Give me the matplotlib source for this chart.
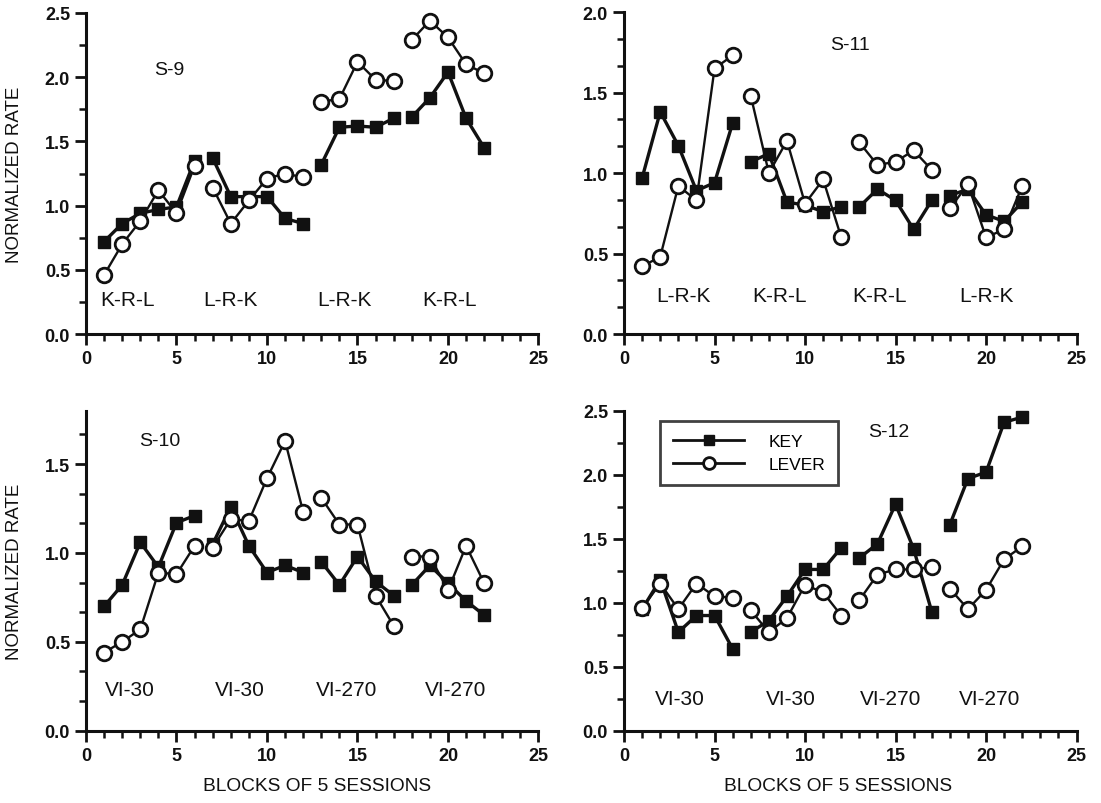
import numpy as np
import matplotlib
matplotlib.use("Agg")
import matplotlib.pyplot as plt
from matplotlib.ticker import MultipleLocator, FixedLocator, FormatStrFormatter
from matplotlib.lines import Line2D

plt.rcParams["font.family"] = ["Liberation Sans", "DejaVu Sans"]

blocks = np.arange(1, 23)
# condition phases: blocks 1-6, 7-12, 13-17, 18-22
segments = [(1, 6), (7, 12), (13, 17), (18, 22)]

s9_key = [0.72, 0.86, 0.94, 0.97, 0.99, 1.35, 1.37, 1.07, 1.07, 1.07, 0.90, 0.86,
          1.32, 1.61, 1.62, 1.61, 1.68, 1.69, 1.84, 2.04, 1.68, 1.45]
s9_lever = [0.46, 0.70, 0.88, 1.12, 0.94, 1.31, 1.14, 0.86, 1.04, 1.21, 1.25, 1.22,
            1.81, 1.83, 2.12, 1.98, 1.97, 2.29, 2.44, 2.31, 2.10, 2.03]
s9_labels = ["K-R-L", "L-R-K", "L-R-K", "K-R-L"]

s11_key = [0.97, 1.38, 1.17, 0.89, 0.94, 1.31, 1.07, 1.12, 0.82, 0.80, 0.76, 0.79,
           0.79, 0.90, 0.83, 0.65, 0.83, 0.86, 0.90, 0.74, 0.70, 0.82]
s11_lever = [0.42, 0.48, 0.92, 0.83, 1.65, 1.73, 1.48, 1.00, 1.20, 0.81, 0.96, 0.60,
             1.19, 1.05, 1.07, 1.14, 1.02, 0.78, 0.93, 0.60, 0.65, 0.92]
s11_labels = ["L-R-K", "K-R-L", "K-R-L", "L-R-K"]

s10_key = [0.70, 0.82, 1.06, 0.92, 1.17, 1.21, 1.05, 1.26, 1.04, 0.89, 0.93, 0.89,
           0.95, 0.82, 0.98, 0.84, 0.76, 0.82, 0.93, 0.83, 0.73, 0.65]
s10_lever = [0.44, 0.50, 0.57, 0.89, 0.88, 1.04, 1.03, 1.19, 1.18, 1.42, 1.63, 1.23,
             1.31, 1.16, 1.16, 0.76, 0.59, 0.98, 0.98, 0.79, 1.04, 0.83]
s10_labels = ["VI-30", "VI-30", "VI-270", "VI-270"]

s12_key = [0.95, 1.18, 0.77, 0.90, 0.90, 0.64, 0.77, 0.86, 1.05, 1.26, 1.26, 1.43,
           1.35, 1.46, 1.77, 1.42, 0.93, 1.61, 1.97, 2.02, 2.41, 2.45]
s12_lever = [0.96, 1.15, 0.95, 1.15, 1.05, 1.04, 0.94, 0.77, 0.88, 1.14, 1.08, 0.90,
             1.02, 1.22, 1.26, 1.26, 1.28, 1.11, 0.95, 1.10, 1.34, 1.44]
s12_labels = ["VI-30", "VI-30", "VI-270", "VI-270"]

ink = "#111111"
key_style = dict(color=ink, lw=2.4, marker="s", ms=8, mfc=ink, mec=ink)
lever_style = dict(color=ink, lw=1.7, marker="o", ms=10.5, mfc="white", mec=ink, mew=2.0)


def draw_panel(ax, key, lever, labels, name, name_xy, label_y, label_x, ymax, minor):
    key = np.asarray(key)
    lever = np.asarray(lever)
    for a, b in segments:
        m = (blocks >= a) & (blocks <= b)
        ax.plot(blocks[m], key[m], zorder=3, clip_on=False, **key_style)
        ax.plot(blocks[m], lever[m], zorder=4, clip_on=False, **lever_style)
    for lx, lab in zip(label_x, labels):
        ax.text(lx, label_y, lab, fontsize=15, ha="center", va="center", color=ink)
    ax.text(name_xy[0], name_xy[1], name, fontsize=14, ha="center", va="center", color=ink)
    ax.set_xlim(0, 25)
    ax.set_ylim(0, ymax)
    ax.xaxis.set_major_locator(MultipleLocator(5))
    ax.xaxis.set_minor_locator(MultipleLocator(1))
    ax.yaxis.set_major_locator(FixedLocator(np.arange(0, ymax + 0.01, 0.5)))
    ax.yaxis.set_minor_locator(MultipleLocator(minor))
    ax.yaxis.set_major_formatter(FormatStrFormatter("%.1f"))
    for s in ["top", "right"]:
        ax.spines[s].set_visible(False)
    for s in ["left", "bottom"]:
        ax.spines[s].set_linewidth(2.2)
        ax.spines[s].set_color(ink)
    ax.tick_params(which="major", length=8, width=2, colors=ink, labelsize=13)
    ax.tick_params(which="minor", length=5, width=1.8, colors=ink)
    for t in ax.get_xticklabels() + ax.get_yticklabels():
        t.set_fontweight("bold")


fig = plt.figure(figsize=(11.01, 8.04), dpi=100)
ax1 = fig.add_axes([0.0781, 0.5833, 0.411, 0.3993])
ax2 = fig.add_axes([0.5668, 0.5833, 0.411, 0.4005])
ax3 = fig.add_axes([0.0781, 0.0899, 0.411, 0.398])
ax4 = fig.add_axes([0.5668, 0.0899, 0.411, 0.398])

draw_panel(ax1, s9_key, s9_lever, s9_labels, "S-9", (4.6, 2.06), 0.27,
           [2.3, 8.0, 14.3, 20.1], 2.5, 0.25)
draw_panel(ax2, s11_key, s11_lever, s11_labels, "S-11", (12.5, 1.8), 0.24,
           [3.3, 8.6, 14.1, 20.0], 2.0, 0.5 / 3)
draw_panel(ax3, s10_key, s10_lever, s10_labels, "S-10", (4.1, 1.63), 0.23,
           [2.4, 8.5, 14.4, 20.4], 1.8, 0.5 / 3)
draw_panel(ax4, s12_key, s12_lever, s12_labels, "S-12", (14.6, 2.34), 0.25,
           [3.1, 9.2, 14.7, 20.2], 2.5, 0.25)

for ax in (ax1, ax3):
    ax.set_ylabel("NORMALIZED RATE", fontsize=13.5, color=ink)
    ax.yaxis.set_label_coords(-0.14, 0.5)
ax3.set_xlabel("BLOCKS OF 5 SESSIONS", fontsize=13.8, color=ink)
ax3.xaxis.set_label_coords(0.51, -0.145)
ax4.set_xlabel("BLOCKS OF 5 SESSIONS", fontsize=13.8, color=ink)
ax4.xaxis.set_label_coords(0.472, -0.145)

# legend in S-12 panel
handles = [
    Line2D([], [], color=ink, lw=2.0, marker="s", ms=7, mfc=ink, mec=ink),
    Line2D([], [], color=ink, lw=2.0, marker="o", ms=8.5, mfc="white", mec=ink, mew=2.0),
]
leg = ax4.legend(handles, ["KEY", "LEVER"], loc="upper left",
                 bbox_to_anchor=(0.0796, 0.968), borderaxespad=0,
                 frameon=True, fancybox=False, edgecolor=ink,
                 handlelength=4.1, borderpad=0.75, labelspacing=0.45,
                 handletextpad=1.4,
                 prop={"family": ["Liberation Sans Narrow", "Liberation Sans"], "size": 12.5})
leg.get_frame().set_linewidth(2.0)

fig.savefig("out.png", dpi=100)
